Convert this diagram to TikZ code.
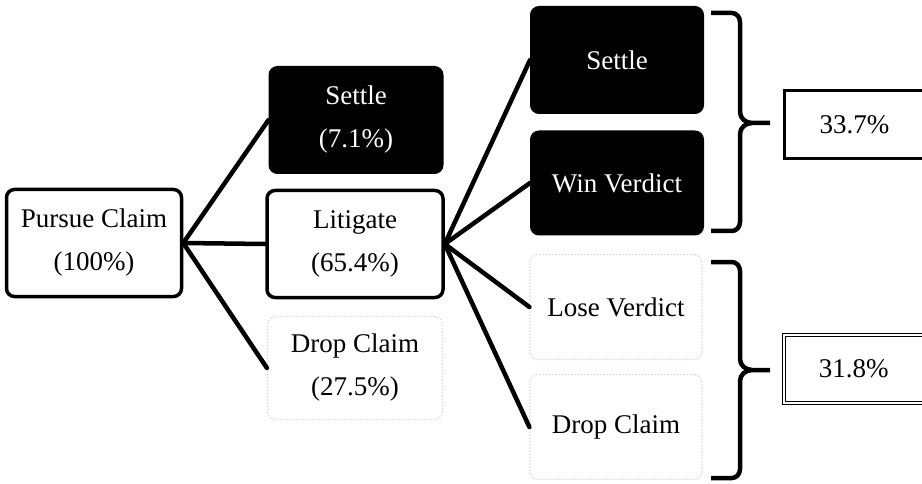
\documentclass[tikz,border=0pt]{standalone}
\usepackage{fontspec}
\setmainfont{Liberation Serif}
\begin{document}
\begin{tikzpicture}[x=1pt,y=-1pt,
  base/.style={rounded corners=8pt, align=center, inner sep=0pt,
    font=\fontsize{27}{43}\selectfont},
  whitebox/.style={base, draw=black, line width=3.5pt, fill=white},
  darkbox/.style={base, draw=black, line width=2pt, fill=black, text=white},
  faintbox/.style={base, draw=black!18, dotted, line width=1.2pt, fill=white},
  pctbox/.style={draw=black, line width=3pt, fill=white, inner sep=0pt,
    font=\fontsize{27}{30}\selectfont},
  conn/.style={line width=4.5pt, line cap=round},
  bracestyle/.style={line width=4.5pt, line join=round}]
\useasboundingbox (0,0) rectangle (922,484);
\clip (0,0) rectangle (922,484);

% first level
\node[whitebox, minimum width=175pt, minimum height=107pt] (pursue) at (94,243) {Pursue Claim\\(100\%)};
\node[darkbox, minimum width=173pt, minimum height=106pt] (settleA) at (356,120) {Settle\\(7.1\%)};
\node[whitebox, minimum width=176pt, minimum height=107pt] (litigate) at (355,244) {Litigate\\(65.4\%)};
\node[faintbox, minimum width=175pt, minimum height=103pt] (dropA) at (355,368) {Drop Claim\\(27.5\%)};

% second level
\node[darkbox, minimum width=172pt, minimum height=106pt] (settleB) at (617,60) {Settle};
\node[darkbox, minimum width=172pt, minimum height=103pt] (win) at (617,183) {Win Verdict};
\node[faintbox, minimum width=172pt, minimum height=105pt] (lose) at (616,307) {Lose Verdict};
\node[faintbox, minimum width=172pt, minimum height=105pt] (dropB) at (616,427) {Drop Claim};

% connectors
\draw[conn] (pursue.east) -- (settleA.west);
\draw[conn] (pursue.east) -- (litigate.west);
\draw[conn] (pursue.east) -- (dropA.west);
\draw[conn] (litigate.east) -- (settleB.west);
\draw[conn] (litigate.east) -- (win.west);
\draw[conn] (litigate.east) -- (lose.west);
\draw[conn] (litigate.east) -- (dropB.west);

% braces
\coordinate (tipA) at (770,123);
\coordinate (tipB) at (770,370);
\draw[bracestyle] (711,13) -- (732,13) to[out=0,in=90] (740,22) -- (740,112)
  to[out=-90,in=180] (752,123) -- (tipA);
\draw[bracestyle] (752,123) to[out=180,in=90] (740,134) -- (740,222)
  to[out=-90,in=0] (732,231) -- (711,231);
\draw[bracestyle] (711,262) -- (732,262) to[out=0,in=90] (740,271) -- (740,359)
  to[out=-90,in=180] (752,370) -- (tipB);
\draw[bracestyle] (752,370) to[out=180,in=90] (740,381) -- (740,469)
  to[out=-90,in=0] (732,478) -- (711,478);

% result boxes
\node[pctbox, minimum width=160pt, minimum height=68pt, anchor=west] (resA) at (783,125) {\hspace*{-20pt}33.7\%};
\node[pctbox, double, double distance=1.5pt, line width=1.5pt, minimum width=160pt, minimum height=68pt, anchor=west] (resB) at (783,369) {\hspace*{-20pt}31.8\%};
\end{tikzpicture}
\end{document}
